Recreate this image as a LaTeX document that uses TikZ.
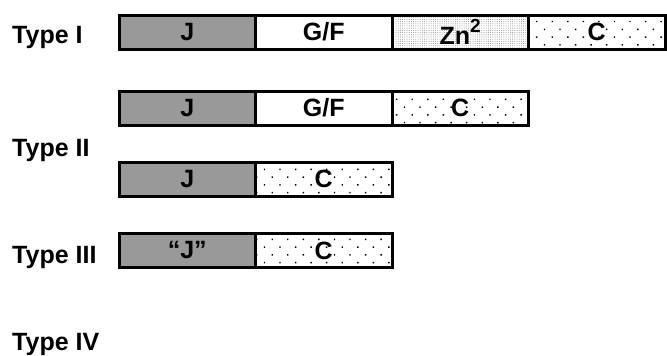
\documentclass[tikz,border=0pt]{standalone}
\usepackage{fontspec}
\setmainfont{Liberation Sans}
\usetikzlibrary{
  positioning,    % Function "of" (e.g. [right=of x])
  patterns.meta,  % Pattern "Dots"
}
\def\mysegw{136.5pt}
\def\myseghgt{34pt}
\newcommand{\myexp}[1]{\raisebox{0.48em}{\fontsize{19}{19}\selectfont #1}}
\tikzset{
  font=\fontsize{25}{29}\selectfont\bfseries,
  seg/.style={
    draw,
    line width=3pt,
    rectangle,
    minimum width=\mysegw,
    minimum height=\myseghgt,
    inner sep=0pt,
    outer sep=0pt,
    anchor=west
  },
  j seg/.style={
    seg,
    fill=black!40
  },
  gf seg/.style={
    seg,
    fill=white
  },
  zn seg/.style={
    seg,
    pattern={Dots[distance=2.2pt,radius=0.5pt]},
    pattern color=black!45
  },
  c seg/.style={
    seg,
    pattern={Dots[distance=11pt,angle=45,radius=1pt]},
    pattern color=black
  },
  type label/.style={
    anchor=base west,
    inner sep=0pt
  }
}

\begin{document}
\begin{tikzpicture}[x=1pt,y=-1pt]
\useasboundingbox (0,0) rectangle (667,356);
% Type I
\node[type label] (t1) at (12,43) {Type I};
\node[j seg]  (j1)  at (119,32)       {J};
\node[gf seg] (gf1) [right=0pt of j1]  {G/F};
\node[zn seg] (zn1) [right=0pt of gf1] {Zn\myexp{2}};
\node[c seg]  (c1)  [right=0pt of zn1] {C};
% Type II
\node[type label] (t2) at (12,156) {Type II};
\node[j seg]  (j2a)  at (119,108)       {J};
\node[gf seg] (gf2a) [right=0pt of j2a]  {G/F};
\node[c seg]  (c2a)  [right=0pt of gf2a] {C};
\node[j seg]  (j2b)  at (119,179)       {J};
\node[c seg]  (c2b)  [right=0pt of j2b]  {C};
% Type III
\node[type label] (t3) at (12,263) {Type III};
\node[j seg]  (j3)  at (119,250.5)    {“J”};
\node[c seg]  (c3)  [right=0pt of j3]  {C};
% Type IV
\node[type label] (t4) at (12,350) {Type IV};
\end{tikzpicture}
\end{document}
